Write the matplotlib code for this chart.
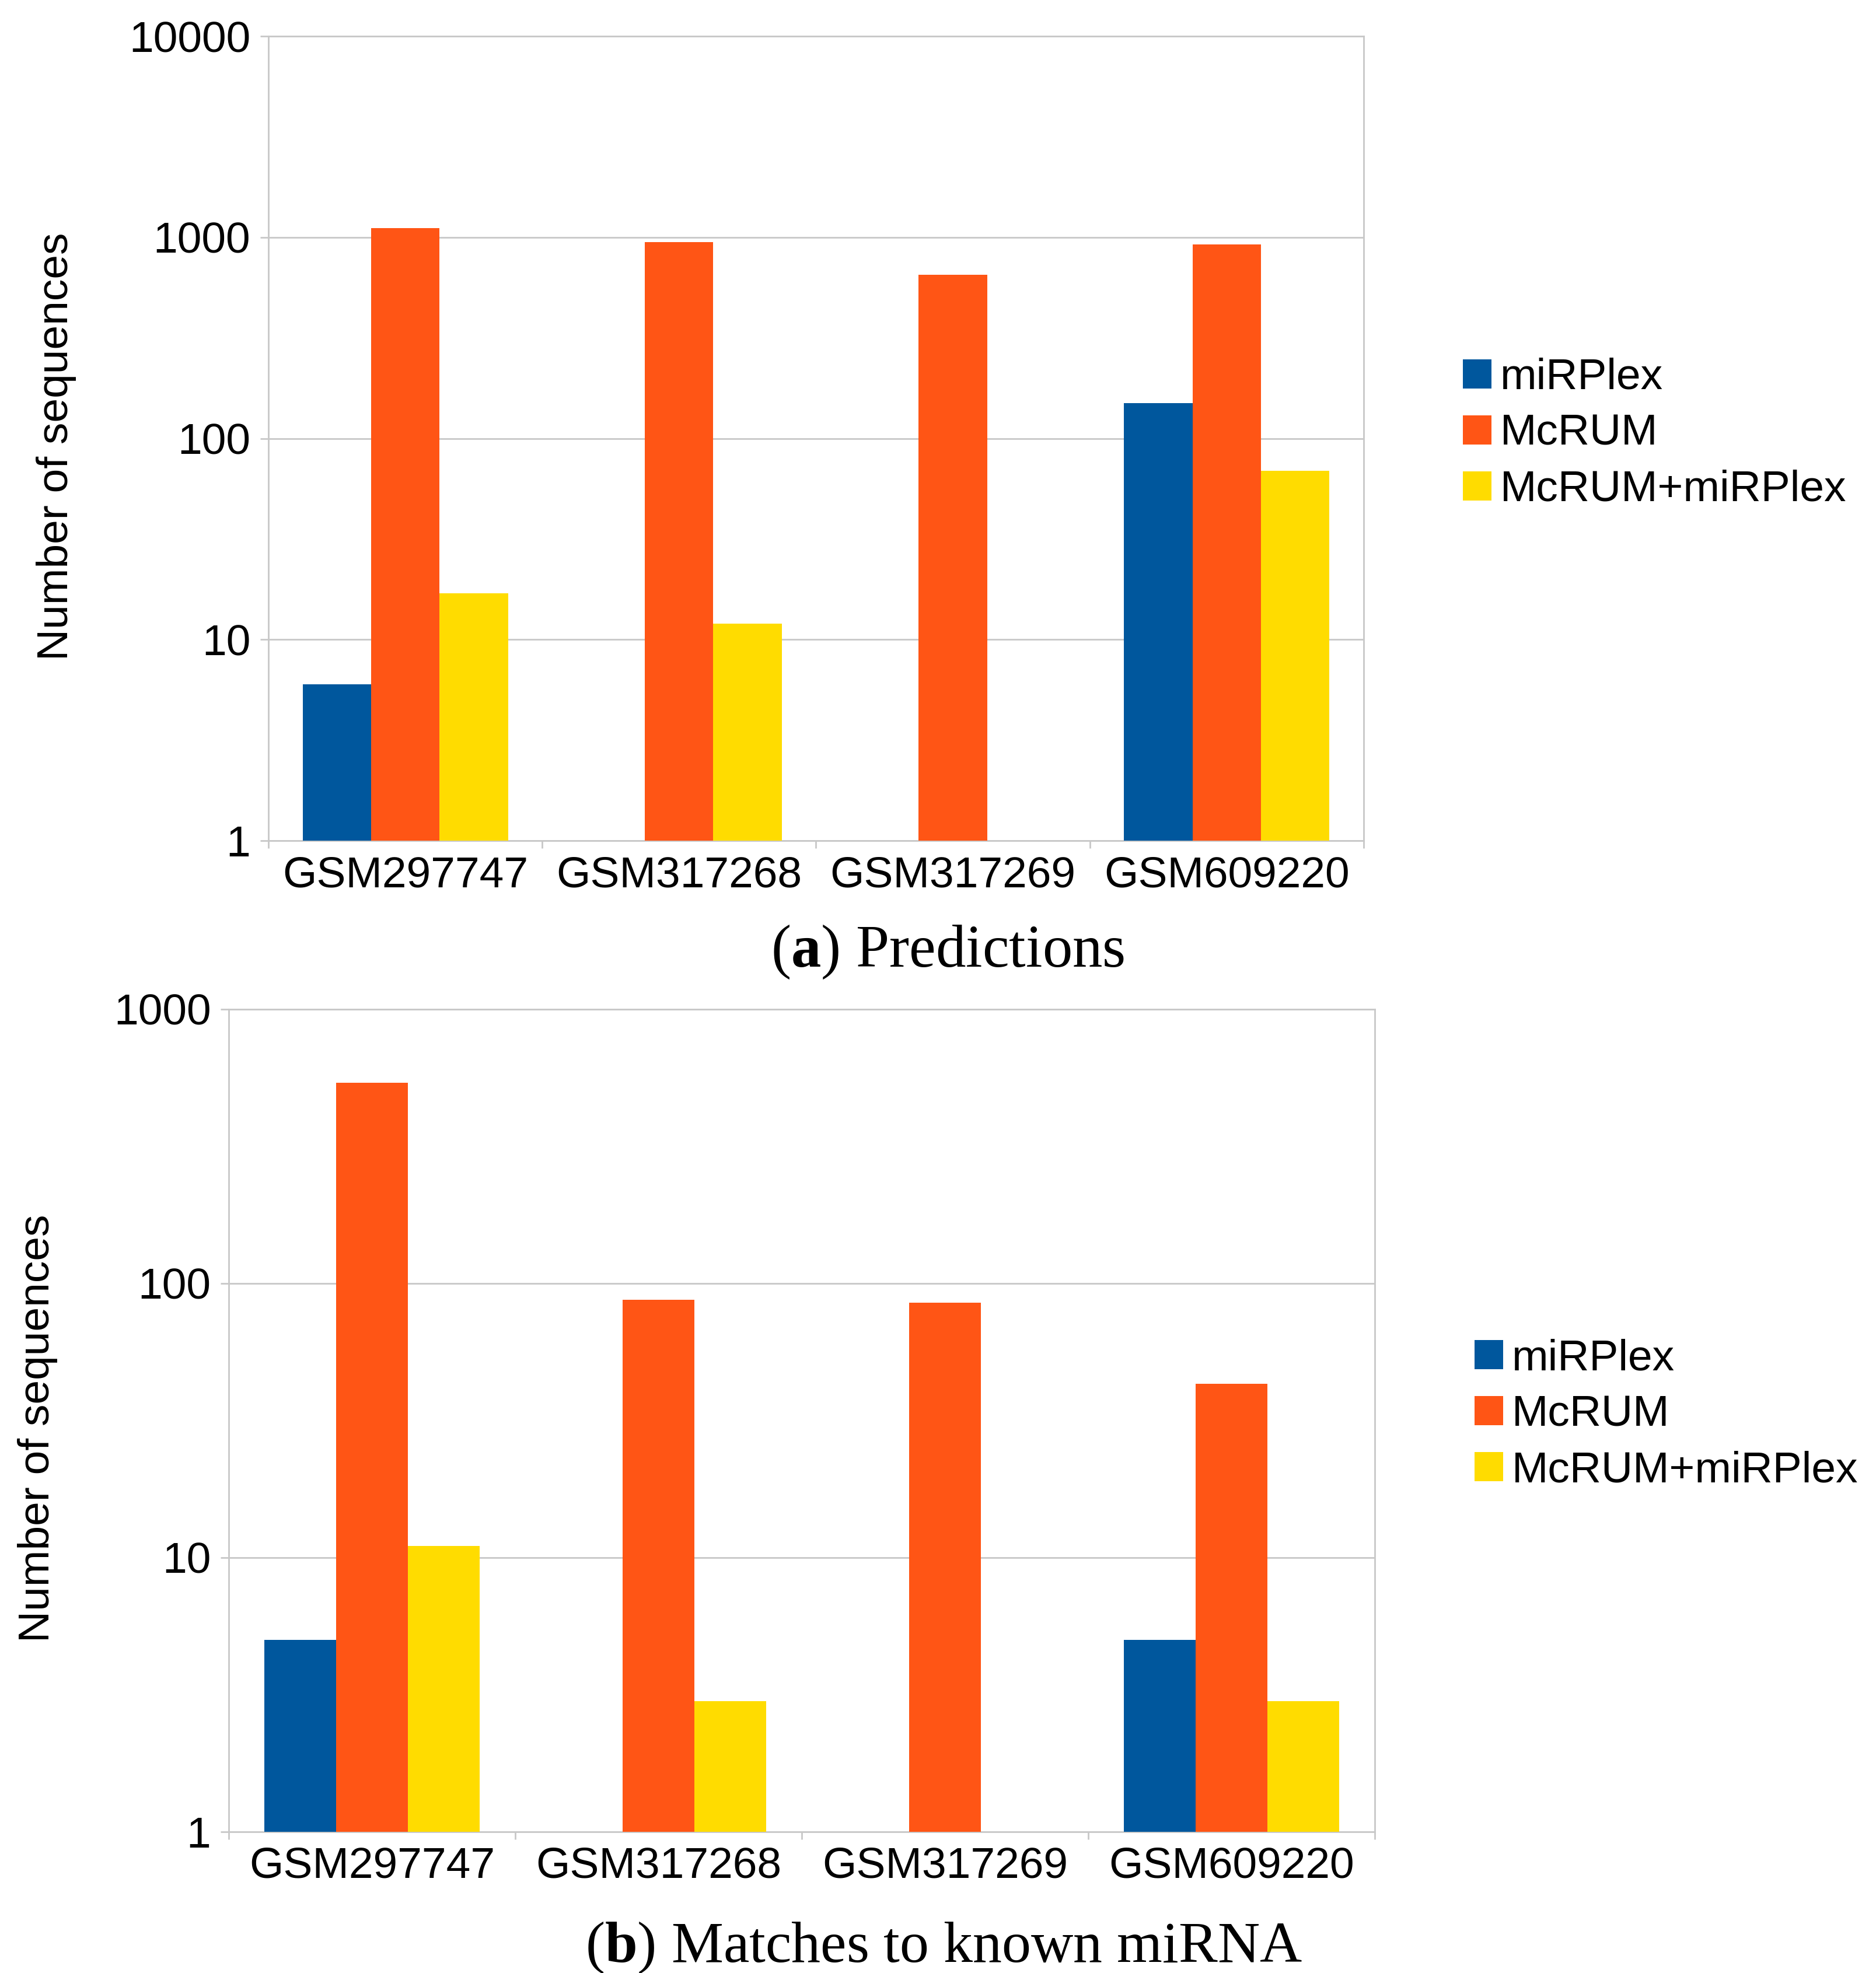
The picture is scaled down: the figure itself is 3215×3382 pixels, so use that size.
import matplotlib
matplotlib.use("Agg")
import matplotlib.pyplot as plt
import numpy as np

plt.rcParams['font.family'] = ['Liberation Sans', 'DejaVu Sans']
plt.rcParams['mathtext.fontset'] = 'custom'
plt.rcParams['mathtext.rm'] = 'Liberation Serif'
plt.rcParams['mathtext.bf'] = 'Liberation Serif:bold'

# data
samples = ['GSM297747', 'GSM317268', 'GSM317269', 'GSM609220']
series = ['miRPlex', 'McRUM', 'McRUM+miRPlex']
colors = ['#00579D', '#FF5515', '#FFDC00']

pred_mirplex = [6, 0, 0, 150]
pred_mcrum = [1110, 950, 650, 920]
pred_both = [17, 12, 0, 69]

match_mirplex = [5, 0, 0, 5]
match_mcrum = [540, 87, 85, 43]
match_both = [11, 3, 0, 3]

grid_col = '#c8c8c8'
fs = 27


def draw_panel(ax, values, ymax, legend_x, legend_y):
    x = np.arange(len(samples)) + 0.5
    w = 0.25
    for k, (vals, name, c) in enumerate(zip(values, series, colors)):
        ax.bar(x + (k - 1) * w, vals, width=w, color=c, label=name, zorder=3)
    ax.set_yscale('log')
    ax.set_ylim(1, ymax)
    ax.set_xlim(0, len(samples))
    ax.yaxis.set_major_locator(matplotlib.ticker.LogLocator(base=10, numticks=10))
    ax.yaxis.set_minor_locator(matplotlib.ticker.NullLocator())
    ax.yaxis.set_major_formatter(matplotlib.ticker.FuncFormatter(lambda v, p: '%d' % round(v)))
    ax.grid(axis='y', color=grid_col, linewidth=1.0, zorder=0)
    for s in ax.spines.values():
        s.set_color(grid_col)
        s.set_linewidth(1.0)
    ax.set_xticks(x)
    ax.set_xticklabels(samples)
    ax.set_xticks(np.arange(len(samples) + 1), minor=True)
    ax.tick_params(axis='x', which='major', length=0, labelsize=fs, pad=9)
    ax.tick_params(axis='x', which='minor', length=4.7, color=grid_col, width=1.0)
    ax.tick_params(axis='y', which='major', length=5, color=grid_col, width=1.0,
                   labelsize=fs, pad=6)
    ax.legend(loc='center left', bbox_to_anchor=(legend_x, legend_y), frameon=False,
              fontsize=fs, handlelength=0.65, handleheight=0.65, handletextpad=0.2,
              labelspacing=0.36, borderpad=0, borderaxespad=0)


fig = plt.figure(figsize=(16.08, 16.91), dpi=200)

ax1 = fig.add_axes([0.143, 0.5739, 0.5837, 0.4077])
draw_panel(ax1, [pred_mirplex, pred_mcrum, pred_both], 10000, 1.0906, 0.506)

ax2 = fig.add_axes([0.1219, 0.0716, 0.6107, 0.4169])
draw_panel(ax2, [match_mirplex, match_mcrum, match_both], 1000, 1.087, 0.507)

fig.text(0.030, 0.7738, 'Number of sequences', rotation=90, fontsize=fs,
         ha='center', va='center')
fig.text(0.020, 0.276, 'Number of sequences', rotation=90, fontsize=fs,
         ha='center', va='center')

fig.text(0.505, 0.5100, r'($\mathbf{a}$) Predictions', fontsize=37,
         family='Liberation Serif', ha='center', va='baseline')
fig.text(0.503, 0.0056, r'($\mathbf{b}$) Matches to known miRNA', fontsize=36,
         family='Liberation Serif', ha='center', va='baseline')

fig.savefig('out.png', dpi=200)
